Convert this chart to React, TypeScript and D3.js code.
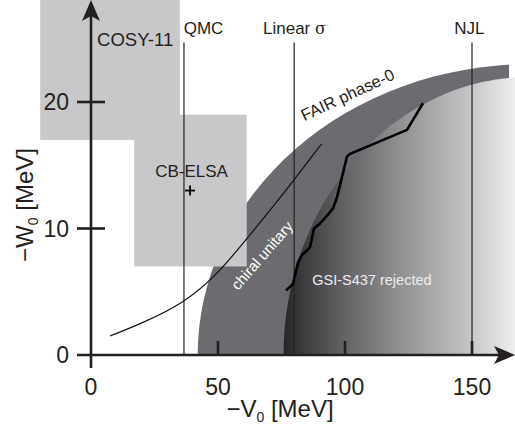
import React from "react";
import * as d3 from "d3";

// ---------- data ----------
const xTicks = [0, 50, 100, 150];
const yTicks = [0, 10, 20];

// excluded experimental regions (rectangles in -V0 / -W0 space)
const rectNames = ["COSY-11", "CB-ELSA"];
const rectV0 = [-20, 17];
const rectV1 = [35, 61.3];
const rectW0 = [17, 7];
const rectW1 = [30, 19];

// model predictions (vertical lines)
const modelNames = ["QMC", "Linear σ", "NJL"];
const modelV = [36.6, 80, 150];

// CB-ELSA point
const elsaV = [39];
const elsaW = [13];

// chiral unitary curve
const chiralV = [7.5, 20, 36.6, 50, 62.6, 76, 90.8];
const chiralW = [1.5, 2.5, 4.1, 6.4, 9.5, 12.8, 16.7];

// GSI-S437 boundary
const gsiV = [76.8, 79.5, 81.5, 83, 86.2, 87.8, 90.2, 93.3, 95.3, 96.9, 100.8, 102, 124.4, 130.7];
const gsiW = [5.1, 5.6, 7.3, 7.9, 8.5, 10.0, 10.4, 11.1, 11.6, 12.5, 15.7, 15.9, 17.8, 19.9];

// FAIR phase-0 reach (outer ellipse) and GSI-S437 rejected (inner ellipse)
const fairEllipse = [173, 0, 131, 23.0]; // cx, cy, rx, ry
const fairClipV = 164.6;
const gsiEllipse = [173, 0, 97.2, 22.0];

const FONT = "'Liberation Sans', Arial, Helvetica, sans-serif";

export default function App() {
  const W = 515;
  const H = 432;
  const x = d3.scaleLinear().domain([0, 150]).range([91, 472]);
  const y = d3.scaleLinear().domain([0, 20]).range([355, 102]);

  const chiralPts: [number, number][] = chiralV.map((v, i) => [v, chiralW[i]]);
  const gsiPts: [number, number][] = gsiV.map((v, i) => [v, gsiW[i]]);
  const chiralLine = d3
    .line<[number, number]>()
    .x((d) => x(d[0]))
    .y((d) => y(d[1]))
    .curve(d3.curveBasis);
  const gsiLine = d3
    .line<[number, number]>()
    .x((d) => x(d[0]))
    .y((d) => y(d[1]));

  const ell = (e: number[]) => ({
    cx: x(e[0]),
    cy: y(e[1]),
    rx: x(e[0] + e[2]) - x(e[0]),
    ry: y(e[1]) - y(e[1] + e[3]),
  });
  const outer = ell(fairEllipse);
  const inner = ell(gsiEllipse);

  const axisCol = "#231f20";
  const textCol = "#231f20";
  const x0 = x(0);
  const y0 = y(0);
  const yTop = 0;
  const xRight = W;

  return (
    <svg
      width={W}
      height={H}
      style={{ position: "absolute", left: 0, top: 0, background: "#fff" }}
      fontFamily={FONT}
    >
      <defs>
        <clipPath id="fairClip">
          <rect x={0} y={0} width={x(fairClipV)} height={y0} />
        </clipPath>
        <clipPath id="plotClip">
          <rect x={0} y={0} width={W} height={y0} />
        </clipPath>
        <linearGradient
          id="gsiGrad"
          gradientUnits="userSpaceOnUse"
          x1={inner.cx - inner.rx}
          x2={W}
          y1={0}
          y2={0}
        >
          <stop offset="0" stopColor="#262628" />
          <stop offset="0.07" stopColor="#39393b" />
          <stop offset="0.264" stopColor="#636366" />
          <stop offset="0.502" stopColor="#909093" />
          <stop offset="0.762" stopColor="#bdbdc0" />
          <stop offset="0.814" stopColor="#c8c8ca" />
          <stop offset="1" stopColor="#eeeeef" />
        </linearGradient>
      </defs>

      {/* FAIR phase-0 band */}
      <ellipse {...outer} fill="#6c6c70" clipPath="url(#fairClip)" />
      {/* GSI-S437 rejected region */}
      <ellipse {...inner} fill="url(#gsiGrad)" clipPath="url(#plotClip)" />

      {/* experimental rectangles */}
      {rectNames.map((n, i) => (
        <rect
          key={n}
          x={x(rectV0[i])}
          y={y(rectW1[i])}
          width={x(rectV1[i]) - x(rectV0[i])}
          height={y(rectW0[i]) - y(rectW1[i])}
          fill="#c8c8ca"
        />
      ))}

      {/* model lines */}
      {modelNames.map((n, i) => (
        <line
          key={n}
          x1={x(modelV[i])}
          x2={x(modelV[i])}
          y1={y(24.7)}
          y2={y0}
          stroke="#222"
          strokeWidth={1.2}
        />
      ))}
      <text x={x(44.3)} y={y(25.4)} fontSize={17} textAnchor="middle" fill={textCol}>QMC</text>
      <text x={x(80.1)} y={y(25.4)} fontSize={17} textAnchor="middle" fill={textCol}>
        Linear <tspan fontFamily="'DejaVu Serif', serif" fontSize={16}>σ</tspan>
      </text>
      <text x={x(149)} y={y(25.4)} fontSize={17} textAnchor="middle" fill={textCol}>NJL</text>

      {/* chiral unitary curve */}
      <path d={chiralLine(chiralPts) || ""} fill="none" stroke="#111" strokeWidth={1.2} />
      {/* GSI boundary */}
      <path d={gsiLine(gsiPts) || ""} fill="none" stroke="#000" strokeWidth={2.6} strokeLinejoin="round" />

      {/* CB-ELSA point */}
      {elsaV.map((v, i) => (
        <g key={i} stroke="#000" strokeWidth={1.8}>
          <line x1={x(v) - 5} x2={x(v) + 5} y1={y(elsaW[i])} y2={y(elsaW[i])} />
          <line x1={x(v)} x2={x(v)} y1={y(elsaW[i]) - 5} y2={y(elsaW[i]) + 5} />
        </g>
      ))}

      {/* region labels */}
      <text x={x(2.4)} y={y(24.4)} fontSize={18.5} fill={textCol}>COSY-11</text>
      <text x={x(39.6)} y={y(14.1)} fontSize={17} textAnchor="middle" fill={textCol}>CB-ELSA</text>
      <text
        transform={`translate(350,100) rotate(-25)`}
        fontSize={16.5}
        textAnchor="middle"
        fill={textCol}
      >
        FAIR phase-0
      </text>
      <text
        transform={`translate(266,259) rotate(-49)`}
        fontSize={15}
        textAnchor="middle"
        fill="#fff"
      >
        chiral unitary
      </text>
      <text x={x(110.6)} y={285} fontSize={14.5} textAnchor="middle" fill="#eee">
        GSI-S437 rejected
      </text>

      {/* axes */}
      <line x1={x0} x2={x0} y1={y(-1.03)} y2={yTop + 16} stroke={axisCol} strokeWidth={2.6} />
      <path
        d={`M${x0},${yTop} L${x0 + 9},${yTop + 21} L${x0},${yTop + 16} L${x0 - 9},${yTop + 21} Z`}
        fill={axisCol}
      />
      <line x1={x(-5.5)} x2={xRight - 16} y1={y0} y2={y0} stroke={axisCol} strokeWidth={2.6} />
      <path
        d={`M${xRight},${y0} L${xRight - 21},${y0 - 9} L${xRight - 16},${y0} L${xRight - 21},${y0 + 9} Z`}
        fill={axisCol}
      />
      {xTicks.map((t) => (
        <g key={t}>
          {t !== 0 && (
            <line x1={x(t)} x2={x(t)} y1={y0 - 14} y2={y0} stroke={axisCol} strokeWidth={2.6} />
          )}
          <text x={x(t)} y={395} fontSize={23} textAnchor="middle" fill={textCol}>
            {t}
          </text>
        </g>
      ))}
      {yTicks.map((t) => (
        <g key={t}>
          {t !== 0 && (
            <line x1={x0 - 14} x2={x0 + 14} y1={y(t)} y2={y(t)} stroke={axisCol} strokeWidth={2.6} />
          )}
          <text x={69} y={y(t) + 8.2} fontSize={23} textAnchor="end" fill={textCol}>
            {t}
          </text>
        </g>
      ))}

      {/* axis titles */}
      <text x={280} y={417} fontSize={24} textAnchor="middle" fill={textCol}>
        −V<tspan fontSize={14} dy={5}>0</tspan>
        <tspan dy={-5}> [MeV]</tspan>
      </text>
      <text
        transform={`translate(33,205) rotate(-90)`}
        fontSize={24}
        textAnchor="middle"
        fill={textCol}
      >
        −W<tspan fontSize={14} dy={5}>0</tspan>
        <tspan dy={-5}> [MeV]</tspan>
      </text>
    </svg>
  );
}
